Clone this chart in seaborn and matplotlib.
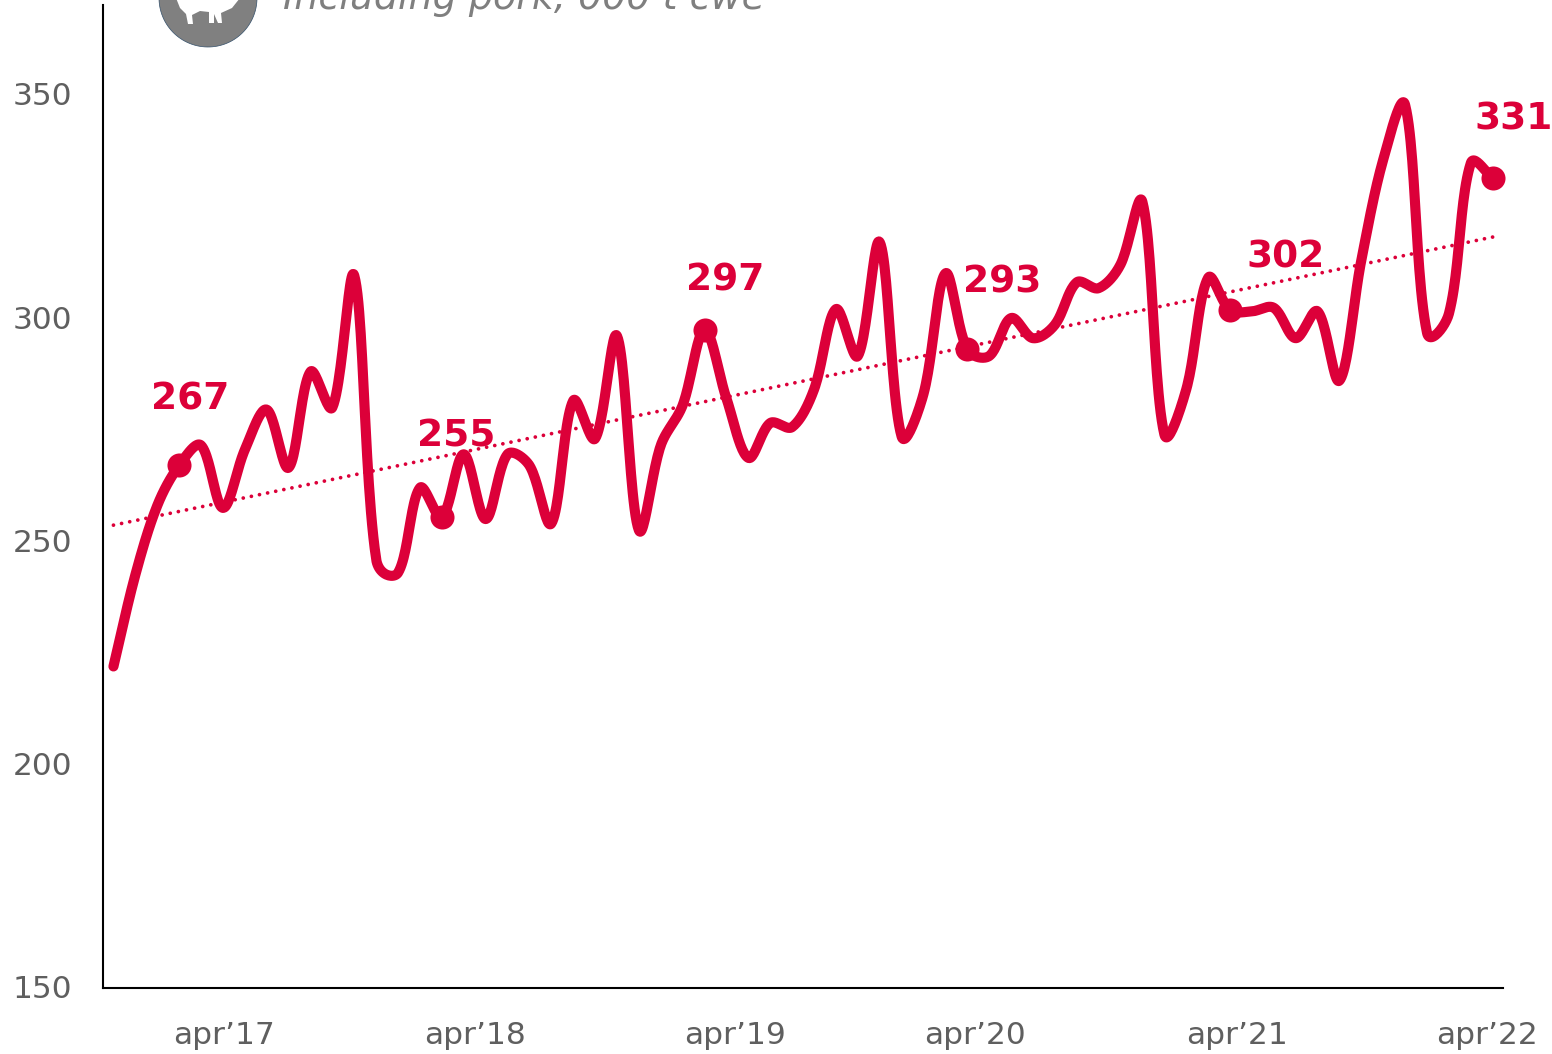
import numpy as np
import pandas as pd
import seaborn as sns
import matplotlib
matplotlib.use("Agg")
import matplotlib.pyplot as plt
from matplotlib.patches import Polygon
from matplotlib.transforms import ScaledTranslation

values = [222, 242.5, 258, 267, 271.5, 257.5, 270.5, 279.5, 266.5, 288, 280, 309.5,
          246, 243, 262, 255.4, 269.5, 255, 269.5, 267, 254, 281.5, 273, 296,
          252.5, 271.5, 280.5, 297.4, 282, 268.7, 276.5, 275.6, 284, 302, 291.5, 317,
          273.5, 283, 310, 293, 291.5, 300, 295.5, 298.5, 308, 306.7, 312, 326,
          274, 284, 309, 301.8, 301.5, 302.3, 295.5, 301.5, 286, 313, 335.5, 347.7,
          296.7, 301, 334.7, 331.4]
highlight_idx = [3, 15, 27, 39, 51, 63]
highlight_labels = ["267", "255", "297", "293", "302", "331"]
label_offsets_px = [(11, 66), (14, 81), (21, 49), (35, 67), (56, 53), (21, 58)]
xtick_pos = [5.05, 16.5, 28.4, 39.35, 51.3, 62.75]
xtick_labels = ["apr’17", "apr’18", "apr’19", "apr’20", "apr’21", "apr’22"]
yticks = [150, 200, 250, 300, 350]
title_text = "Including pork, 000 t cwe"

RED = "#DC0039"
GREY = "#5F5F5F"
W, H = 1552, 1054
PX_X, PX_Y = 21.9, 4.466


def smooth(y, n=24, blend=0.2):
    """Spreadsheet-style smoothed line: Bezier handles scaled by chord length."""
    y = np.asarray(y, float)
    p = np.column_stack([np.arange(len(y)), y])
    p = np.vstack([p[0], p, p[-1]])
    scale = np.array([PX_X, PX_Y])
    xs, ys = [], []

    def handles(a, b, c):
        d1 = np.linalg.norm((b - a) * scale)
        d2 = np.linalg.norm((c - b) * scale)
        r = d2 / max(d1 + d2, 1e-9)
        r = (1 - blend) * r + blend * 0.5
        return b - (c - a) * (1 - r) / 3, b + (c - a) * r / 3

    for i in range(1, len(p) - 2):
        _, c1 = handles(p[i - 1], p[i], p[i + 1])
        c2, _ = handles(p[i], p[i + 1], p[i + 2])
        t = np.linspace(0, 1, n, endpoint=False)[:, None]
        b = ((1 - t) ** 3 * p[i] + 3 * (1 - t) ** 2 * t * c1
             + 3 * (1 - t) * t ** 2 * c2 + t ** 3 * p[i + 1])
        xs.append(b[:, 0])
        ys.append(b[:, 1])
    return np.r_[np.concatenate(xs), p[-1, 0]], np.r_[np.concatenate(ys), p[-1, 1]]


sns.set_theme(style="white")
plt.rcParams["font.family"] = ["DejaVu Sans"]

fig = plt.figure(figsize=(W / 100, H / 100), dpi=100, facecolor="white")
ax = fig.add_axes([102.5 / W, (H - 988) / H, (1503 - 102.5) / W, 983 / H])

months = np.arange(len(values))
sx, sy = smooth(values)
curve = pd.DataFrame({"m": sx, "v": sy})
sns.lineplot(data=curve, x="m", y="v", ax=ax, color=RED, lw=7.3, zorder=3, sort=False,
             solid_capstyle="round", solid_joinstyle="round", errorbar=None)

slope, intercept = np.polyfit(months, values, 1)
trend = pd.DataFrame({"m": months[[0, -1]], "v": intercept + slope * months[[0, -1]]})
sns.lineplot(data=trend, x="m", y="v", ax=ax, color=RED, lw=2.7, zorder=2,
             linestyle=(0, (0.01, 2.2)), dash_capstyle="round", errorbar=None)

points = pd.DataFrame({"m": months[highlight_idx],
                       "v": np.asarray(values)[highlight_idx]})
sns.scatterplot(data=points, x="m", y="v", ax=ax, color=RED, s=300, linewidth=0,
                zorder=4, clip_on=False)

for (_, row), lab, (dx, dy) in zip(points.iterrows(), highlight_labels, label_offsets_px):
    ax.annotate(lab, (row.m, row.v), xytext=(dx * 0.72, dy * 0.72),
                textcoords="offset points", ha="center", va="center",
                color=RED, fontsize=27, fontweight="bold", annotation_clip=False)

ax.set_xlim(-0.5, 63.47)
ax.set_ylim(150, 370.1)
ax.set_yticks(yticks)
ax.set_xticks(xtick_pos)
ax.set_xticklabels(xtick_labels)
ax.set_xlabel("")
ax.set_ylabel("")
ax.tick_params(axis="y", length=0, pad=21.5, labelsize=22.5, labelcolor=GREY)
ax.tick_params(axis="x", length=0, pad=24, labelsize=22.5, labelcolor=GREY)
up = ScaledTranslation(0, 1 / 100, fig.dpi_scale_trans)
for lbl in ax.get_yticklabels():
    lbl.set_transform(lbl.get_transform() + up)
sns.despine(ax=ax)
for s in ("left", "bottom"):
    ax.spines[s].set_color("black")
    ax.spines[s].set_linewidth(1.5)


def px(x, y):
    return (x / W, 1 - y / H)


fig.add_artist(Polygon([px(208 + 49 * np.cos(a), -2 + 49 * np.sin(a))
                        for a in np.linspace(0, 2 * np.pi, 120)],
                       closed=True, transform=fig.transFigure,
                       facecolor="#808080", edgecolor="#34506B", linewidth=0.5))
sheep = [(176, -2), (180, 8), (186, 14), (188, 24), (193, 24), (192, 15), (200, 11), (209, 12),
         (209, 23), (214, 23), (214, 14), (218, 23), (222, 23), (221, 13), (232, 8), (240, -2)]
fig.add_artist(Polygon([px(*p) for p in sheep], closed=True, transform=fig.transFigure,
                       facecolor="white", edgecolor="none"))
fig.text(283 / W, 1 - 9 / H, title_text, style="italic", color="#7F7F7F", fontsize=27.4,
         ha="left", va="baseline")

fig.savefig("out.png", dpi=100)
